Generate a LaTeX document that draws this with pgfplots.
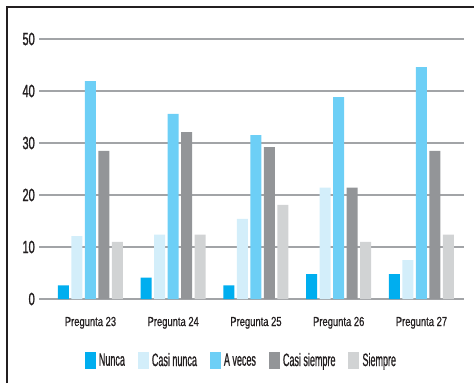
\documentclass[border=0pt]{standalone}
\usepackage{pgfplots}
\pgfplotsset{compat=1.18}
\usepackage{fontspec}
\setmainfont{Liberation Sans}
\newfontfamily\tickfont[FakeStretch=0.62,FakeBold=1.2]{Liberation Sans}
\newfontfamily\catfont[FakeStretch=0.72,FakeBold=0.6]{Liberation Sans}
\newfontfamily\legfont[FakeStretch=0.5,FakeBold=0.8]{Liberation Sans}
\definecolor{cNunca}{HTML}{00AEEF}
\definecolor{cCasiNunca}{HTML}{D3EEFA}
\definecolor{cAVeces}{HTML}{6DCFF6}
\definecolor{cCasiSiempre}{HTML}{939598}
\definecolor{cSiempre}{HTML}{D1D3D4}
\definecolor{cGrid}{HTML}{A2A4A7}
\definecolor{cText}{HTML}{231F20}
\begin{document}
\begin{tikzpicture}
\useasboundingbox (0,0) rectangle (355.5pt,287.25pt);
\draw[line width=1.2pt, color=cText] (5.25pt,0pt) -- (5.25pt,282pt) -- (356pt,282pt);
\begin{axis}[
  at={(29.25pt,63pt)}, anchor=south west,
  scale only axis, width=318.75pt, height=195pt,
  ybar=1.875pt, bar width=8.25pt,
  xmin=-0.622, xmax=4.514, ymin=0, ymax=50,
  xtick={0,1,2,3,4},
  xticklabels={Pregunta 23,Pregunta 24,Pregunta 25,Pregunta 26,Pregunta 27},
  ytick={0,10,20,30,40,50},
  /pgf/number format/assume math mode=true,
  ymajorgrids, major grid style={color=cGrid, line width=1.5pt},
  axis line style={draw=none},
  major tick length=0pt,
  xticklabel style={font=\catfont\fontsize{9.8pt}{11pt}\selectfont, text=cText, anchor=base, yshift=-20.25pt, inner sep=0pt},
  yticklabel style={font=\tickfont\fontsize{13.3pt}{15pt}\selectfont, text=cText, anchor=east, inner sep=0pt, xshift=-3pt},
  legend columns=5,
  legend style={draw=none, fill=none, inner sep=0pt, outer sep=0pt,
    at={(axis description cs:0.108,-0.204)}, anchor=north west,
    nodes={inner sep=0pt, font=\legfont\fontsize{13.5pt}{15pt}\selectfont, text=cText},
    cells={anchor=west},
    /tikz/every odd column/.append style={column sep=2.25pt},
    /tikz/every even column/.append style={column sep=9.75pt}},
  legend image code/.code={\fill[#1] (0pt,-6.375pt) rectangle (8.25pt,6.375pt);},
]
\addplot[draw=none, fill=cNunca] coordinates {(0,2.6) (1,4.1) (2,2.6) (3,4.8) (4,4.8)};
\addplot[draw=none, fill=cCasiNunca] coordinates {(0,12.1) (1,12.4) (2,15.4) (3,21.4) (4,7.5)};
\addplot[draw=none, fill=cAVeces] coordinates {(0,41.9) (1,35.6) (2,31.5) (3,38.8) (4,44.6)};
\addplot[draw=none, fill=cCasiSiempre] coordinates {(0,28.5) (1,32.1) (2,29.2) (3,21.4) (4,28.5)};
\addplot[draw=none, fill=cSiempre] coordinates {(0,11.0) (1,12.4) (2,18.1) (3,11.0) (4,12.4)};
\legend{Nunca,Casi nunca,A veces,Casi siempre,Siempre}
\end{axis}
\end{tikzpicture}
\end{document}
